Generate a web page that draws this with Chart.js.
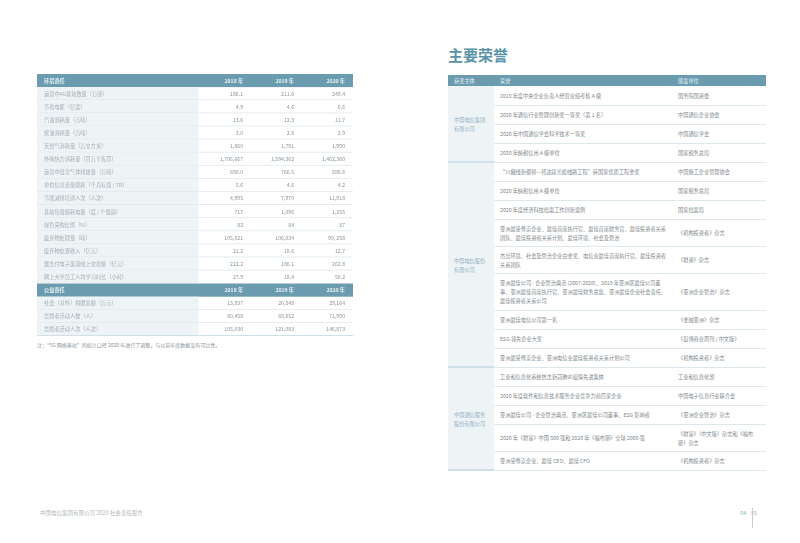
<!DOCTYPE html>
<html><head><meta charset="utf-8">
<script src="https://cdn.jsdelivr.net/npm/chart.js@4"></script>
<style>
body{margin:0;width:800px;height:543px;background:#fff;font-family:"Noto Sans CJK SC","Noto Sans",sans-serif;position:relative;overflow:hidden;color:#8a9399}
#wrap{position:absolute;left:37px;top:74px;width:316px;height:262px}
.note{position:absolute;left:37px;top:341px;font-size:5px;color:#8a9399}
.foot{position:absolute;left:40px;top:509px;font-size:5.5px;color:#b0b8bc}
.pg{position:absolute;left:740px;top:509px;font-size:5.5px;color:#8fb3c2}
.pgline{position:absolute;left:752px;top:508px;width:1px;height:20px;background:#ccc}
h1{position:absolute;left:448px;top:44px;margin:0;font-size:15px;color:#5b93a8;font-weight:700}
table{position:absolute;left:448px;top:75px;width:318px;border-collapse:collapse;font-size:5.2px;color:#7d868b}
th{background:#6a9bae;color:#e6f0f4;font-weight:normal;text-align:left;height:11px;padding:0 0 0 6px}
td{border-bottom:1px solid #dde8ee;padding:2px 6px;line-height:9px}
td.g{background:#eef3f6;border-bottom:2px solid #cfe0e8;color:#8fb0be;padding-left:6px}
</style></head><body>
<div id="wrap"><canvas id="c"></canvas></div>
<div class="note">注：“5G 网络基站”的统计口径 2020 年进行了调整，与以前年度数据没有可比性。</div>
<div class="foot">中国电信集团有限公司 2020 社会责任报告</div>
<div class="pg">84 &nbsp;&nbsp; 85</div><div class="pgline"></div>
<h1>主要荣誉</h1>
<table>
<tr><th style="width:40px">获奖主体</th><th style="width:172px">荣誉</th><th>颁发单位</th></tr>
<tr style="height:19px"><td class="g" rowspan="4">中国电信集团<br>有限公司</td><td>2019 年度中央企业负责人经营业绩考核 A 级</td><td>国务院国资委</td></tr>
<tr style="height:19px"><td>2020 年通信行业管理创新奖一等奖（第 1 名）</td><td>中国通信企业协会</td></tr>
<tr style="height:19px"><td>2020 年中国通信学会科学技术一等奖</td><td>中国通信学会</td></tr>
<tr style="height:19px"><td>2020 年纳税信用 A 级单位</td><td>国家税务总局</td></tr>
<tr style="height:19px"><td class="g" rowspan="9">中国电信股份<br>有限公司</td><td>“川藏线新都桥—邦达段光缆线路工程”获国家优质工程金奖</td><td>中国施工企业管理协会</td></tr>
<tr style="height:19px"><td>2020 年纳税信用 A 级单位</td><td>国家税务总局</td></tr>
<tr style="height:19px"><td>2020 年度经济科技档案工作创新案例</td><td>国家档案局</td></tr>
<tr style="height:27px"><td>亚洲最受尊崇企业、最佳首席执行官、最佳首席财务官、最佳投资者关系团队、最佳投资者关系计划、最佳环境、社会及管治</td><td>《机构投资者》杂志</td></tr>
<tr style="height:27px"><td>杰出环境、社会及管治企业白金奖、电信业最佳首席执行官、最佳投资者关系团队</td><td>《财资》杂志</td></tr>
<tr style="height:37px"><td>亚洲最佳公司 - 企业管治典范 (2007-2020)、2019 年亚洲区最佳公司董事、亚洲最佳首席执行官、亚洲最佳财务总监、亚洲最佳企业社会责任、最佳投资者关系公司</td><td>《亚洲企业管治》杂志</td></tr>
<tr style="height:19px"><td>亚洲最佳电信公司第一名</td><td>《金融亚洲》杂志</td></tr>
<tr style="height:19px"><td>ESG 领先企业大奖</td><td>《彭博商业周刊 / 中文版》</td></tr>
<tr style="height:19px"><td>亚洲最受尊崇企业、亚洲电信业最佳投资者关系计划公司</td><td>《机构投资者》杂志</td></tr>
<tr style="height:19px"><td class="g" rowspan="5">中国通信服务<br>股份有限公司</td><td>工业和信息化系统抗击新冠肺炎疫情先进集体</td><td>工业和信息化部</td></tr>
<tr style="height:19px"><td>2020 年度软件和信息技术服务企业竞争力前百家企业</td><td>中国电子信息行业联合会</td></tr>
<tr style="height:19px"><td>亚洲最佳公司 - 企业管治典范、亚洲区最佳公司董事、ESG 影响者</td><td>《亚洲企业管治》杂志</td></tr>
<tr style="height:27px"><td>2020 年《财富》中国 500 强和 2020 年《福布斯》全球 2000 强</td><td>《财富》（中文版）杂志和《福布斯》杂志</td></tr>
<tr style="height:19px"><td>亚洲受尊崇企业、最佳 CEO、最佳 CFO</td><td>《机构投资者》杂志</td></tr>
</table>
<script>
const columns=["2018 年","2019 年","2020 年"];
const envTitle="环境责任", pubTitle="公益责任";
const envRows=["运营中4G基站数量（万座）","节省电能（亿度）","汽油消耗量（万吨）","柴油消耗量（万吨）","天然气消耗量（万立方米）","外购热力消耗量（百万千焦耳）","运营中温室气体排放量（万吨）","单位信息流量能耗（千克标煤 / TB）","节能减排培训人次（人次）","基站每载频耗电量（度 / 个载频）","绿色采购比例（%）","废弃物处理量（吨）","废弃物处置收入（亿元）","翼支付电子渠道线上交易额（亿元）","网上大学员工人均学习时长（小时）"];
const env2018=["186.1","4.9","13.6","3.0","1,860","1,706,667","690.0","5.6","4,995","717","82","105,021","21.2","222.2","27.9"];
const env2019=["211.6","4.6","12.3","2.8","1,791","1,594,362","766.5","4.6","7,970","1,096","84","106,034","18.6","186.1","18.4"];
const env2020=["249.4","6.6","11.7","2.9","1,990","1,462,360","886.6","4.2","11,918","1,255","87","90, 258","12.7","262.8","50.2"];
const pubRows=["社会（对外）捐赠总额（万元）","志愿者活动人数（人）","志愿者活动人次（人次）"];
const pub2018=["13,937","60,458","105,030"];
const pub2019=["20,548","68,652","121,083"];
const pub2020=["29,164","71,990","146,873"];

const labels=[envTitle,...envRows,pubTitle,...pubRows];
const headerIdx=[0,envRows.length+1];
const col=(a)=>[columns[a],...a===0?env2018:a===1?env2019:env2020,columns[a],...(a===0?pub2018:a===1?pub2019:pub2020)];
const cols=[col(0),col(1),col(2)];

const tablePlugin={id:'tbl',beforeDatasetsDraw(ch){
  const {ctx,scales:{x,y},chartArea:ca}=ch;
  const h=y.getPixelForValue(1)-y.getPixelForValue(0);
  ctx.save();
  labels.forEach((lab,i)=>{
    const yc=y.getPixelForValue(i),top=yc-h/2;
    const hdr=headerIdx.includes(i);
    if(hdr){ctx.fillStyle='#6a9bae';ctx.fillRect(ca.left,top,ca.right-ca.left,h);}
    else{ctx.fillStyle='#eef3f6';ctx.fillRect(ca.left,top,x.getPixelForValue(-0.4)-ca.left-6,h);
      ctx.fillStyle='#dde8ee';ctx.fillRect(ca.left,top+h-0.8,ca.right-ca.left,0.8);}
    ctx.font=(hdr?'bold ':'')+'5.2px "Noto Sans CJK SC"';
    ctx.textBaseline='middle';
    ctx.fillStyle=hdr?'#e8f2f6':'#a5aeb3';ctx.textAlign='left';
    ctx.fillText(lab,ca.left+7,yc);
    cols.forEach((c,j)=>{ctx.textAlign='right';ctx.fillStyle=hdr?'#e8f2f6':'#8a9399';
      ctx.fillText(c[i],x.getPixelForValue(j)+18,yc);});
  });
  ctx.fillStyle='#cfe0e8';ctx.fillRect(ca.left,ca.bottom-1,ca.right-ca.left,1.5);
  ctx.restore();
}};
new Chart(document.getElementById('c'),{
  type:'line',
  data:{labels,datasets:[{data:labels.map((_,i)=>({x:0,y:i})),pointRadius:0,showLine:false}]},
  options:{responsive:true,maintainAspectRatio:false,animation:false,
    layout:{padding:0},
    plugins:{legend:{display:false},tooltip:{enabled:false}},
    scales:{
      y:{type:'linear',min:-0.5,max:labels.length-0.5,reverse:true,display:false},
      x:{type:'linear',min:-3.69,max:2.51,display:false}
    }},
  plugins:[tablePlugin]
});
</script>
</body></html>
